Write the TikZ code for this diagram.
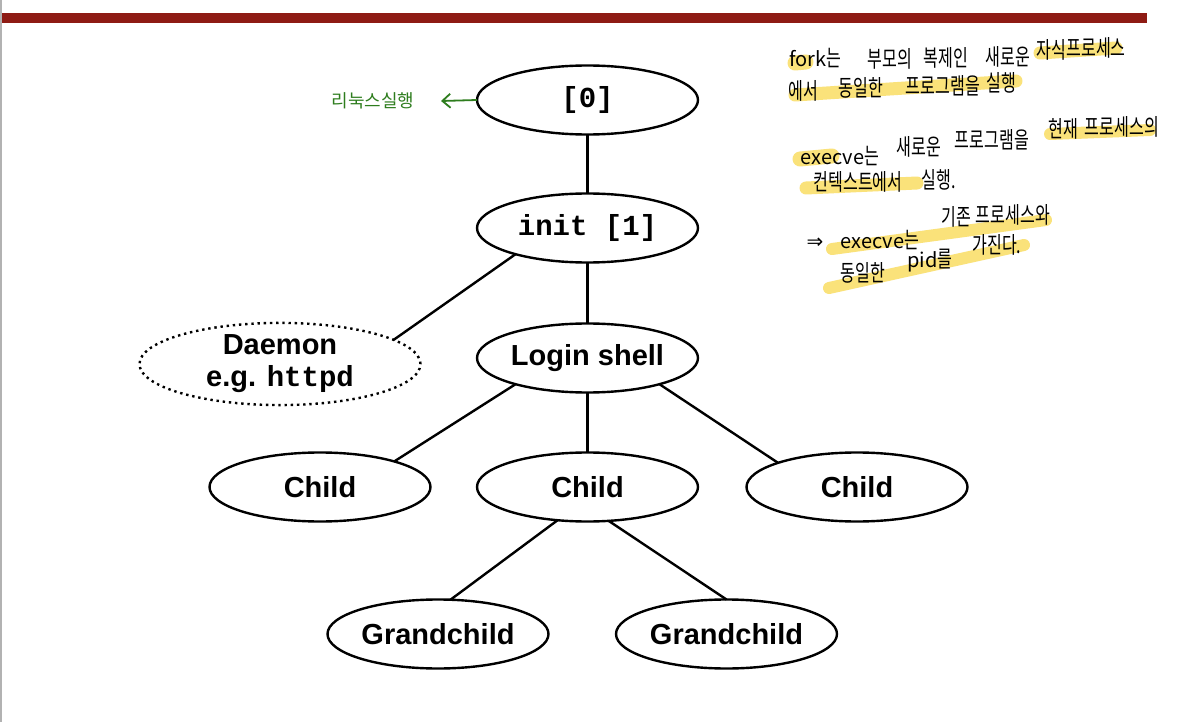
\documentclass[tikz,border=0pt]{standalone}
\usepackage{fontspec}
\setmainfont{Liberation Sans}
\newfontfamily\monofont{Liberation Mono}
\newfontfamily\krfont[FakeStretch=0.7]{Noto Sans CJK KR}
\newfontfamily\krplain{Noto Sans CJK KR}
\newfontfamily\symfont{DejaVu Sans}
\newcommand{\lat}[1]{{\fontsize{20}{22}\selectfont\krplain #1}}
\usetikzlibrary{shapes.geometric,arrows.meta}
\definecolor{barred}{RGB}{142,27,20}
\definecolor{noteyellow}{RGB}{250,226,122}
\definecolor{notegreen}{RGB}{46,125,30}
\tikzset{
  proc/.style={ellipse, draw, line width=2.4pt, inner sep=0pt, outer sep=0pt,
    minimum width=221pt, minimum height=69pt, font=\fontsize{29}{33}\selectfont\bfseries},
  monoproc/.style={proc, font=\fontsize{29}{33}\selectfont\monofont\bfseries},
  daemonbox/.style={ellipse, draw, line width=2.4pt, dash pattern=on 2.4pt off 3.8pt,
    inner sep=0pt, outer sep=0pt, minimum width=281pt, minimum height=80pt,
    align=center, font=\fontsize{29}{32}\selectfont\bfseries},
  link/.style={line width=2.4pt},
  hl/.style={noteyellow, line width=13pt, line cap=round},
  w/.style={inner sep=0pt, font=\fontsize{23}{25}\selectfont\krfont},
}
\begin{document}
\begin{tikzpicture}[x=1pt,y=-1pt]
\useasboundingbox (0,0) rectangle (1186,722);
\fill[white] (0,0) rectangle (1186,722);
% top bar and left edge
\fill[barred] (0,13) rectangle (1147,23);
\draw[black!30, line width=1.5pt] (0.75,0) -- (0.75,722);

% highlights (behind the notes)
\draw[hl, line width=15pt] (795,63) -- (806,62);
\draw[hl] (1040,53) -- (1116,48);
\draw[hl] (795,95) -- (1016,81);
\draw[hl, line width=15pt] (800,159) -- (832,156);
\draw[hl, line width=12pt] (1050,134) -- (1150,130);
\draw[hl] (806,188) -- (917,183);
\draw[hl, line width=12pt] (832,249) -- (1046,220);
\draw[hl, line width=12pt] (829,288) -- (1024,245);

% notes, word by word
\node[w] (a1) at (815,58) {\lat{fork}는};
\node[w] (a2) at (890,59) {부모의};
\node[w] (a3) at (946,58) {복제인};
\node[w] (a4) at (1008,57) {새로운};
\node[w] (a5) at (1051,50) {자식};
\node[w] (a6) at (1096,48) {프로세스};
\node[w] (b1) at (803,91) {에서};
\node[w] (b2) at (861,88) {동일한};
\node[w] (b3) at (943,86) {프로그램을};
\node[w] (b4) at (1001,83) {실행};
\node[w] (c1) at (840,156) {\lat{execve}는};
\node[w] (c2) at (919,147) {새로운};
\node[w] (c3) at (992,140) {프로그램을};
\node[w] (c4) at (1063,129) {현재};
\node[w] (c5) at (1122,127) {프로세스의};
\node[w] (d1) at (858,182) {컨텍스트에서};
\node[w] (d2) at (939,180) {실행.};
\node[w, font=\fontsize{20}{22}\selectfont\symfont] (e1) at (815,243) {⇒};
\node[w] (e2) at (880,240) {\lat{execve}는};
\node[w] (e3) at (956,217) {기존};
\node[w] (e4) at (1013,215) {프로세스와};
\node[w] (f1) at (863,273) {동일한};
\node[w] (f2) at (930,261) {\lat{pid}를};
\node[w] (f3) at (997,245) {가진다.};

% tree
\node[monoproc] (zero) at (587.5,100) {[0]};
\node[monoproc] (init) at (587.5,228) {init [1]};
\node[proc] (login) at (587.5,358) {Login shell};
\node[daemonbox] (daemon) at (280,364) {Daemon\\e.g. {\monofont\bfseries httpd}};
\node[proc] (childL) at (320,487) {Child};
\node[proc] (childM) at (587.5,487) {Child};
\node[proc] (childR) at (857,487) {Child};
\node[proc] (gcL) at (438,634) {Grandchild};
\node[proc] (gcR) at (726.5,634) {Grandchild};

\draw[link] (zero.south) -- (init.north);
\draw[link] (init.south) -- (login.north);
\draw[link] (init.200) -- (daemon.12);
\draw[link] (login.200) -- (childL.19);
\draw[link] (login.south) -- (childM.north);
\draw[link] (login.340) -- (childR.163);
\draw[link] (childM.228) -- (gcL.70);
\draw[link] (childM.302) -- (gcR.north);

% green annotation
\coordinate (tip) at (441,101);
\draw[notegreen, line width=1.8pt, -{Straight Barb[length=8pt,width=14pt]}] (zero.west) -- (tip);
\node[text=notegreen, font=\fontsize{18}{20}\selectfont\krplain, inner sep=0pt] (linux) at (373,101) {리눅스실행};
\end{tikzpicture}
\end{document}
